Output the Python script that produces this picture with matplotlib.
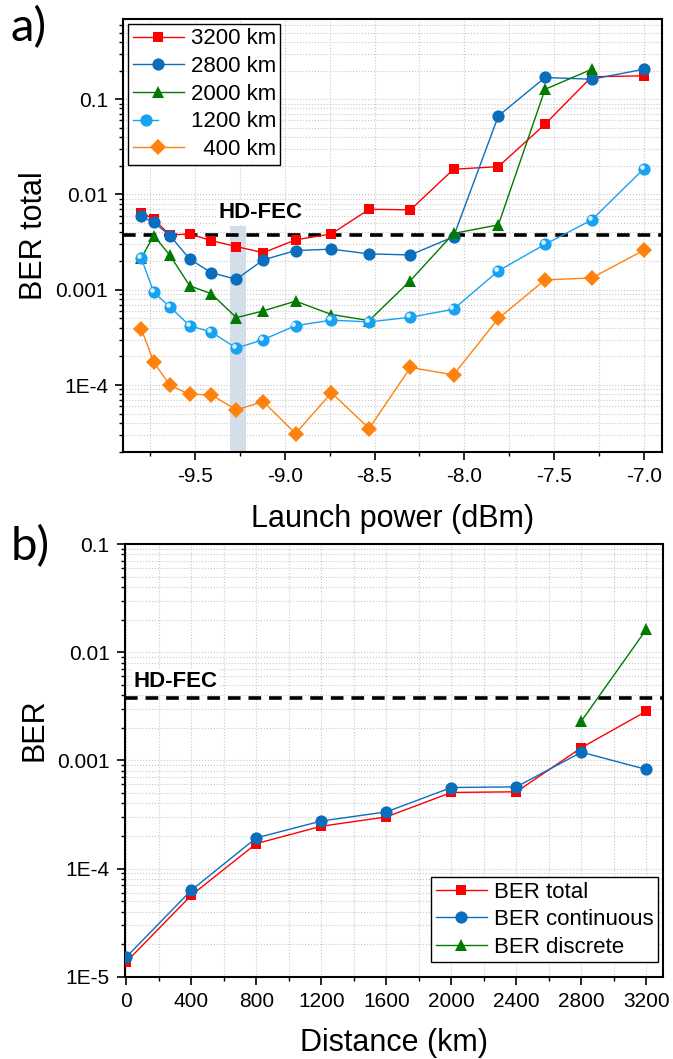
import numpy as np
import matplotlib
matplotlib.use('Agg')
import matplotlib.pyplot as plt
from matplotlib.ticker import LogLocator, MultipleLocator, NullFormatter, FuncFormatter
from matplotlib.transforms import ScaledTranslation
from matplotlib.legend_handler import HandlerTuple

plt.rcParams['font.family'] = ['Liberation Sans', 'DejaVu Sans']

# ---------------- data: panel a ----------------
power = [-9.80, -9.73, -9.64, -9.53, -9.41, -9.27, -9.12, -8.94, -8.74, -8.53,
         -8.30, -8.06, -7.81, -7.55, -7.29, -7.00]
ber_3200 = [6.45e-3, 5.5e-3, 3.75e-3, 3.86e-3, 3.28e-3, 2.84e-3, 2.45e-3, 3.34e-3,
            3.86e-3, 7.0e-3, 6.9e-3, 0.0184, 0.0196, 0.0547, 0.172, 0.176]
ber_2800 = [5.9e-3, 5.1e-3, 3.7e-3, 2.1e-3, 1.51e-3, 1.29e-3, 2.06e-3, 2.58e-3,
            2.67e-3, 2.38e-3, 2.32e-3, 3.6e-3, 0.0668, 0.169, 0.162, 0.206]
ber_2000 = [2.15e-3, 3.7e-3, 2.3e-3, 1.1e-3, 9.1e-4, 5.1e-4, 6.0e-4, 7.6e-4,
            5.5e-4, 4.75e-4, 1.25e-3, 3.9e-3, 4.8e-3, 0.127, 0.206]
ber_1200 = [2.15e-3, 9.4e-4, 6.6e-4, 4.2e-4, 3.6e-4, 2.44e-4, 3.0e-4, 4.2e-4,
            4.8e-4, 4.6e-4, 5.15e-4, 6.25e-4, 1.58e-3, 3.0e-3, 5.4e-3, 0.0186]
ber_400 = [3.9e-4, 1.74e-4, 9.9e-5, 8.0e-5, 7.9e-5, 5.5e-5, 6.7e-5, 3.1e-5,
           8.3e-5, 3.5e-5, 1.53e-4, 1.28e-4, 5.0e-4, 1.27e-3, 1.33e-3, 2.6e-3]
labels_a = ['3200 km', '2800 km', '2000 km', '1200 km', '  400 km']
band_x = [-9.304, -9.217]
band_top = 4.7e-3

# ---------------- data: panel b ----------------
distance = [0, 400, 800, 1200, 1600, 2000, 2400, 2800, 3200]
ber_total = [1.37e-5, 5.66e-5, 1.70e-4, 2.46e-4, 3.0e-4, 5.05e-4, 5.12e-4, 1.31e-3, 2.85e-3]
ber_cont = [1.52e-5, 6.3e-5, 1.92e-4, 2.75e-4, 3.34e-4, 5.61e-4, 5.69e-4, 1.19e-3, 8.24e-4]
dist_disc = [2800, 3200]
ber_disc = [2.31e-3, 0.0163]
labels_b = ['BER total', 'BER continuous', 'BER discrete']

hd_fec = 3.8e-3

RED = '#FF0000'
BLUE = '#0A6EBD'
GREEN = '#007A00'
LBLUE = '#18A2F2'
ORANGE = '#FF820F'

fig = plt.figure(figsize=(6.73, 10.59), dpi=100)
ax1 = fig.add_axes([0.1832, 0.5735, 0.800, 0.4083])
ax2 = fig.add_axes([0.1857, 0.0777, 0.799, 0.4086])


def yfmt(v, pos):
    e = int(round(np.log10(v)))
    if 0 > e >= -3:
        return ('%.' + str(-e) + 'f') % v
    if e >= 0:
        return '%g' % v
    return '1E%d' % e


def style_axes(ax):
    ax.set_yscale('log')
    ax.yaxis.set_major_locator(LogLocator(base=10, numticks=20))
    ax.yaxis.set_minor_locator(LogLocator(base=10, subs=np.arange(2, 10), numticks=20))
    ax.yaxis.set_major_formatter(FuncFormatter(yfmt))
    ax.yaxis.set_minor_formatter(NullFormatter())
    ax.grid(True, which='both', color='#c8c8c8', linestyle=':', linewidth=0.8, zorder=0)
    ax.set_axisbelow(True)
    ax.tick_params(which='major', direction='out', length=6, width=1.2, labelsize=15,
                   top=False, right=False, pad=5)
    ax.tick_params(which='minor', direction='out', length=3, width=1.0,
                   top=False, right=False)
    for s in ax.spines.values():
        s.set_linewidth(1.5)
        s.set_color('black')


def sphere(ax, x, y, ms):
    off = ScaledTranslation(-1.5 / 72, 1.5 / 72, fig.dpi_scale_trans)
    h, = ax.plot(x, y, linestyle='none', marker='o', markersize=ms * 0.38,
                 markerfacecolor='white', markeredgecolor='none', alpha=0.85,
                 transform=ax.transData + off, zorder=5)
    return h


leg_kw = dict(fontsize=16, frameon=True, fancybox=False, framealpha=1,
              edgecolor='black', handlelength=2.3, handletextpad=0.3,
              labelspacing=0.3, borderpad=0.2, borderaxespad=0.0)

# ---------------- panel a ----------------
style_axes(ax1)
ax1.fill_between(band_x, 1e-6, band_top, color='#D4DEEB', linewidth=0, zorder=1)
ax1.axhline(hd_fec, color='black', linestyle=(0, (3.5, 2.2)), linewidth=2.6, zorder=2)
ax1.text(-9.137, 5.66e-3, 'HD-FEC', fontsize=16, fontweight='bold', ha='center',
         va='baseline', zorder=3,
         bbox=dict(facecolor='white', edgecolor='none', pad=1.5))

lw = 1.0
h1, = ax1.plot(power, ber_3200, color=RED, lw=lw, marker='s', markersize=7.8,
               markeredgewidth=0, label=labels_a[0], zorder=4)
h2, = ax1.plot(power, ber_2800, color=BLUE, lw=lw, marker='o', markersize=8.8,
               markeredgewidth=0, label=labels_a[1], zorder=4)
h3, = ax1.plot(power[:len(ber_2000)], ber_2000, color=GREEN, lw=lw, marker='^',
               markersize=9.3, markeredgewidth=0, label=labels_a[2], zorder=4)
h4, = ax1.plot(power, ber_1200, color=LBLUE, lw=lw, marker='o', markersize=8.8,
               markeredgewidth=0, label=labels_a[3], zorder=4)
h4b = sphere(ax1, power, ber_1200, 8.8)
h5, = ax1.plot(power, ber_400, color=ORANGE, lw=lw, marker='D', markersize=7.8,
               markeredgewidth=0, label=labels_a[4], zorder=4)

ax1.set_xlim(-9.90, -6.90)
ax1.set_ylim(2.0e-5, 0.69)
ax1.xaxis.set_major_locator(MultipleLocator(0.5))
ax1.xaxis.set_minor_locator(MultipleLocator(0.25))
ax1.xaxis.set_major_formatter(FuncFormatter(lambda v, p: '%.1f' % v))
ax1.set_xlabel('Launch power (dBm)', fontsize=22, labelpad=13)
ax1.set_ylabel('BER total', fontsize=22)
ax1.yaxis.set_label_coords(-0.138, 0.5)

leg1 = ax1.legend([h1, h2, h3, (h4, h4b), h5], labels_a, loc='upper left',
                  bbox_to_anchor=(0.0093, 0.989),
                  handler_map={tuple: HandlerTuple(ndivide=None, pad=0)}, **leg_kw)
leg1.get_frame().set_linewidth(1.0)
leg1.set_zorder(10)

# ---------------- panel b ----------------
style_axes(ax2)
ax2.axhline(hd_fec, color='black', linestyle=(0, (3.5, 2.2)), linewidth=2.6, zorder=2)
ax2.text(305, 4.75e-3, 'HD-FEC', fontsize=16, fontweight='bold', ha='center',
         va='baseline', zorder=3,
         bbox=dict(facecolor='white', edgecolor='none', pad=1.5))
g1, = ax2.plot(distance, ber_total, color=RED, lw=lw, marker='s', markersize=7.8,
               markeredgewidth=0, label=labels_b[0], zorder=4)
g2, = ax2.plot(distance, ber_cont, color=BLUE, lw=lw, marker='o', markersize=8.8,
               markeredgewidth=0, label=labels_b[1], zorder=4)
g3, = ax2.plot(dist_disc, ber_disc, color=GREEN, lw=lw, marker='^', markersize=9.3,
               markeredgewidth=0, label=labels_b[2], zorder=4)
ax2.set_xlim(-8, 3300)
ax2.set_ylim(1e-5, 0.1)
ax2.xaxis.set_major_locator(MultipleLocator(400))
ax2.xaxis.set_minor_locator(MultipleLocator(200))
ax2.set_xlabel('Distance (km)', fontsize=22, labelpad=12)
ax2.set_ylabel('BER', fontsize=22)
ax2.yaxis.set_label_coords(-0.141, 0.572)
leg2 = ax2.legend(loc='lower right', bbox_to_anchor=(0.9907, 0.0333), **leg_kw)
leg2.get_frame().set_linewidth(1.0)
leg2.set_zorder(10)

fig.text(0.016, 0.994, 'a)', fontsize=34, family=['Lato', 'DejaVu Sans'], va='top', ha='left')
fig.text(0.016, 0.504, 'b)', fontsize=34, family=['Lato', 'DejaVu Sans'], va='top', ha='left')

fig.savefig('out.png', dpi=100)
